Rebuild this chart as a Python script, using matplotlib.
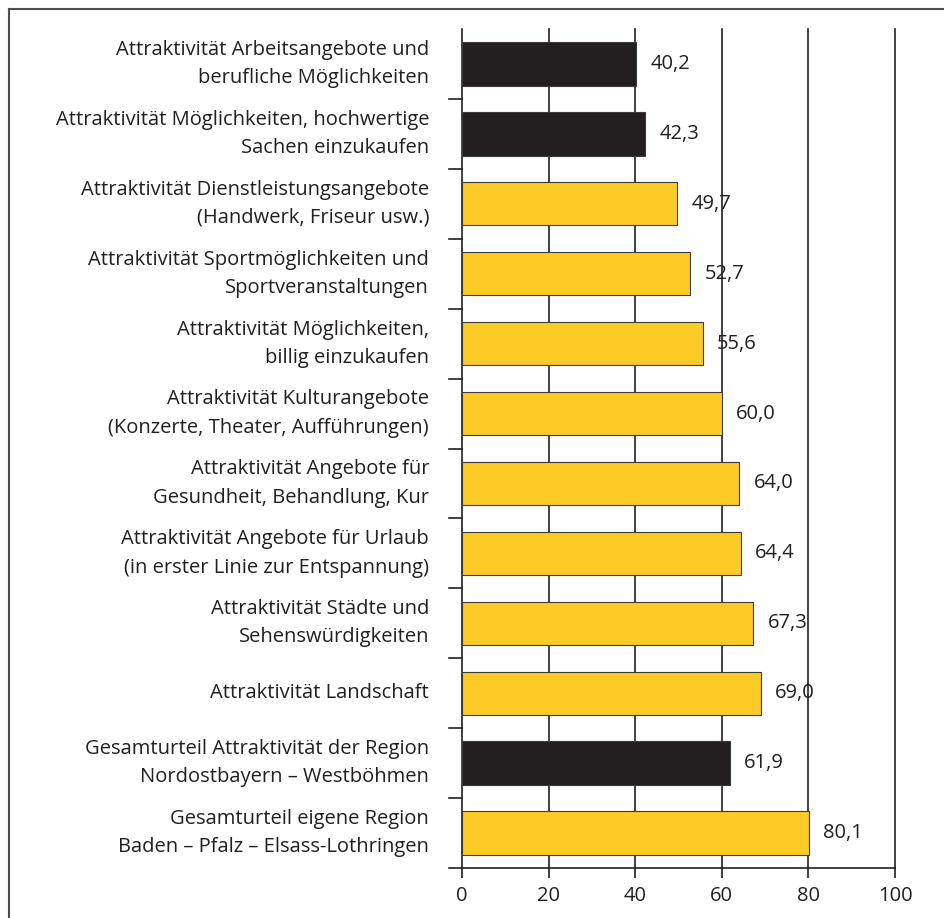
import matplotlib.pyplot as plt
from matplotlib.lines import Line2D

labels = [
    "Attraktivität Arbeitsangebote und\nberufliche Möglichkeiten",
    "Attraktivität Möglichkeiten, hochwertige\nSachen einzukaufen",
    "Attraktivität Dienstleistungsangebote\n(Handwerk, Friseur usw.)",
    "Attraktivität Sportmöglichkeiten und\nSportveranstaltungen",
    "Attraktivität Möglichkeiten,\nbillig einzukaufen",
    "Attraktivität Kulturangebote\n(Konzerte, Theater, Aufführungen)",
    "Attraktivität Angebote für\nGesundheit, Behandlung, Kur",
    "Attraktivität Angebote für Urlaub\n(in erster Linie zur Entspannung)",
    "Attraktivität Städte und\nSehenswürdigkeiten",
    "Attraktivität Landschaft",
    "Gesamturteil Attraktivität der Region\nNordostbayern – Westböhmen",
    "Gesamturteil eigene Region\nBaden – Pfalz – Elsass-Lothringen",
]
values = [40.2, 42.3, 49.7, 52.7, 55.6, 60.0, 64.0, 64.4, 67.3, 69.0, 61.9, 80.1]
dark = [True, True, False, False, False, False, False, False, False, False, True, False]

YELLOW = "#fccb26"
BLACK = "#231f20"

plt.rcParams["font.family"] = ["Open Sans", "DejaVu Sans"]

fig = plt.figure(figsize=(9.44, 9.18), dpi=100)
ax = fig.add_axes([462 / 944, 1 - 868 / 918, 433 / 944, 839 / 918])

n = len(values)
ypos = list(range(n))
colors = [BLACK if d else YELLOW for d in dark]
ax.barh(ypos, values, height=0.62, color=colors, edgecolor="#3a3a3a",
        linewidth=0.8, zorder=3)

for y, v in zip(ypos, values):
    ax.text(v + 3.3, y, f"{v:.1f}".replace(".", ","), va="center", ha="left",
            fontsize=14.5, color="#231f20")

ax.set_xlim(0, 100)
ax.set_ylim(n - 0.5, -0.5)
ax.set_xticks([0, 20, 40, 60, 80, 100])
ax.tick_params(axis="x", length=7, width=1.2, labelsize=14.5, pad=6,
               colors="#231f20")
ax.set_yticks([])

for x in [20, 40, 60, 80, 100]:
    ax.axvline(x, color="#231f20", linewidth=1.2, zorder=1, clip_on=False)

for s in ["top", "right"]:
    ax.spines[s].set_visible(False)
ax.spines["left"].set_color("#231f20")
ax.spines["bottom"].set_color("#231f20")
ax.spines["left"].set_linewidth(1.2)
ax.spines["bottom"].set_linewidth(1.2)

# small ticks between categories, sticking out left of the axis
for b in range(1, n + 1):
    yb = b - 0.5
    ax.plot([-3, 0], [yb, yb], color="#231f20", linewidth=1.2,
            clip_on=False, zorder=4)

for y, lab in zip(ypos, labels):
    ax.text(-7.6, y, lab, ha="right", va="center", fontsize=14.5,
            linespacing=1.55, color="#231f20")

# outer frame: left and top edges
fig.add_artist(Line2D([9 / 944, 9 / 944], [0, 1 - 9 / 918],
                      color="#4d4d4d", linewidth=1.5))
fig.add_artist(Line2D([9 / 944, 1], [1 - 9 / 918, 1 - 9 / 918],
                      color="#4d4d4d", linewidth=1.5))

fig.savefig("out.png", dpi=100, facecolor="white")
